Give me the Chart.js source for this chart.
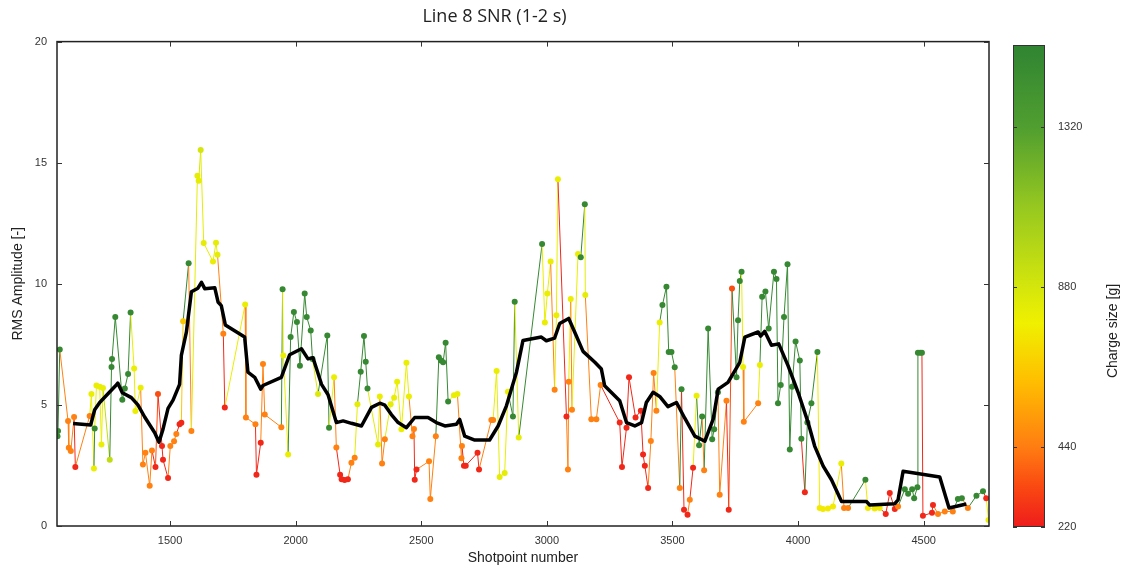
<!DOCTYPE html>
<html><head><meta charset="utf-8">
<script src="https://cdn.jsdelivr.net/npm/chart.js@4.4.0/dist/chart.umd.min.js"></script>
<style>
html,body{margin:0;padding:0;background:#fff;overflow:hidden;}
#main{position:absolute;left:0;top:0;}
#cbar{position:absolute;left:990px;top:0;}
</style></head><body>
<canvas id="main" width="1125" height="573"></canvas>
<canvas id="cbar" width="135" height="573"></canvas>
<script>
// ---- data ----
const shot = [1052,1054,1061,1094,1097,1105,1118,1123,1180,1187,1197,1200,1207,1220,1227,1233,1260,1267,1269,1282,
1310,1320,1333,1343,1357,1362,1383,1392,1402,1419,1428,1442,1452,1468,1472,1492,1501,1516,1525,1538,
1545,1552,1574,1585,1609,1614,1622,1634,1671,1683,1689,1712,1718,1799,1802,1840,1844,1861,1870,1877,
1943,1948,1951,1970,1980,1993,2005,2017,2036,2044,2060,2067,2089,2126,2133,2153,2162,2177,2183,2195,
2208,2222,2235,2246,2259,2272,2279,2286,2328,2335,2344,2355,2378,2392,2404,2421,2441,2451,2465,2471,
2474,2481,2531,2536,2558,2570,2578,2587,2597,2607,2630,2644,2660,2662,2670,2677,2724,2730,2779,2786,
2800,2812,2832,2845,2865,2872,2888,2981,2992,3002,3015,3031,3038,3044,3078,3084,3087,3095,3100,3124,
3135,3151,3153,3177,3197,3214,3290,3299,3317,3327,3353,3374,3383,3390,3403,3414,3425,3436,3449,3460,
3476,3485,3496,3509,3529,3536,3546,3560,3569,3582,3596,3606,3618,3626,3642,3658,3666,3681,3688,3715,
3724,3737,3755,3761,3768,3775,3781,3784,3841,3848,3857,3870,3883,3904,3914,3920,3931,3944,3958,3967,
3976,3990,4007,4013,4027,4037,4053,4077,4086,4099,4119,4139,4172,4183,4199,4268,4278,4305,4325,4349,
4365,4385,4398,4425,4438,4454,4462,4475,4477,4486,4493,4497,4533,4537,4557,4584,4616,4636,4652,4676,
4710,4736,4749,4758];
const rms = [3.71,3.92,7.29,4.34,3.23,3.10,4.50,2.44,4.54,5.45,2.37,4.03,5.80,5.75,3.37,5.70,2.74,6.56,6.90,8.63,
5.21,5.68,6.28,8.81,6.50,4.75,5.71,2.54,3.02,1.66,3.12,2.44,5.45,3.30,2.74,1.98,3.30,3.50,3.80,4.20,
4.26,8.45,10.85,3.92,14.46,14.25,15.52,11.68,10.92,11.70,11.20,7.94,4.89,9.15,4.48,4.20,2.12,3.44,6.69,4.60,
4.08,9.78,7.04,2.95,7.80,8.84,8.42,6.62,9.60,8.63,8.07,6.90,5.45,7.87,4.06,6.14,3.24,2.12,1.93,1.90,
1.93,2.61,2.82,5.03,6.37,7.84,6.78,5.68,3.37,5.35,2.58,3.58,5.03,5.30,5.96,3.99,6.74,5.35,3.71,4.00,
1.91,2.33,2.67,1.11,3.71,6.97,6.83,6.76,7.57,5.14,5.40,5.45,2.80,3.30,2.49,2.49,3.02,2.33,4.38,4.38,
6.40,2.02,2.19,5.54,4.52,9.26,3.65,11.64,8.40,9.60,10.92,5.63,8.70,14.32,4.52,2.33,5.96,9.37,4.80,11.23,
11.10,13.28,9.54,4.41,4.41,5.82,4.27,2.44,4.06,6.14,4.48,4.76,2.95,2.49,1.57,3.51,6.32,4.76,8.40,9.12,
9.88,7.18,7.18,6.55,1.57,5.65,0.67,0.46,1.08,2.40,5.38,3.33,4.52,2.30,8.15,3.58,3.99,5.52,1.29,5.17,
0.67,9.81,6.14,8.50,10.12,10.50,6.56,4.30,5.07,6.65,9.47,9.68,8.15,10.50,10.20,5.07,5.82,8.63,10.81,3.16,
5.75,7.62,6.83,3.60,1.39,4.27,5.07,7.18,0.74,0.70,0.72,0.80,2.58,0.74,0.74,1.91,0.74,0.72,0.74,0.50,
1.36,0.70,0.80,1.52,1.33,1.52,1.15,1.60,7.15,7.15,7.15,0.42,0.55,0.87,0.50,0.60,0.60,1.11,1.15,0.74,
1.25,1.43,1.15,0.25];
const charge = [1500,1500,1500,450,450,450,450,250,450,800,800,1500,800,800,800,800,950,1500,1500,1500,
1500,1500,1500,1500,800,800,800,450,450,450,450,250,340,250,250,250,450,450,450,250,
250,650,1500,450,820,820,880,820,800,820,820,450,250,800,450,450,250,250,450,450,
450,1500,800,800,1500,1500,1500,1500,1500,1500,1500,1500,850,1500,1500,800,450,250,250,250,
250,450,450,820,1500,1500,1500,1500,820,800,450,450,820,800,800,800,800,800,450,450,
250,250,450,450,450,1500,1500,1500,1500,1500,800,800,450,450,250,250,250,250,450,450,
800,820,820,800,1500,1500,820,1500,800,800,800,450,800,800,250,450,450,800,450,800,
1500,1500,820,450,450,450,250,250,250,250,250,250,250,250,250,450,450,450,800,1500,
1500,1500,1500,1500,450,1500,250,250,450,250,800,1500,1500,450,1500,1500,1500,1500,450,450,
250,340,1500,1500,1500,1500,800,450,450,800,1500,1500,1500,1500,1500,1500,1500,1500,1500,1500,
1500,1500,1500,1500,250,1500,1500,1500,760,760,760,760,800,450,450,1500,760,760,760,250,
250,250,450,1500,1500,1500,1500,1500,1500,1500,1500,250,250,250,450,450,450,1500,1500,450,
1500,1500,250,800];

const avgShot = [1114,1184,1200,1220,1286,1292,1310,1346,1372,1399,1439,1456,1472,1492,1512,1538,1545,1565,1585,1611,
1625,1638,1678,1691,1704,1720,1797,1810,1837,1861,1870,1943,1976,2023,2049,2069,2103,2129,2162,2189,
2222,2262,2302,2335,2355,2381,2408,2441,2474,2527,2560,2594,2640,2653,2673,2713,2772,2806,2839,2879,
2905,2978,2998,3031,3051,3087,3111,3144,3191,3217,3230,3290,3317,3350,3377,3396,3423,3449,3482,3516,
3549,3589,3629,3662,3682,3721,3768,3788,3841,3851,3867,3894,3923,3960,4000,4040,4066,4100,4133,4173,
4272,4285,4385,4398,4418,4564,4601,4670];
const avgRms = [4.23,4.17,4.8,5.1,5.82,5.9,5.5,5.3,5.0,4.5,3.85,3.46,4.0,4.86,5.2,5.85,7.04,8.0,9.67,9.82,
10.06,9.8,9.84,9.25,9.1,8.3,7.8,6.35,6.14,5.65,5.8,6.14,7.07,7.32,6.9,6.95,5.85,5.42,4.27,4.34,
4.24,4.13,4.9,5.07,4.99,4.6,4.27,4.06,4.48,4.48,4.27,4.13,4.2,4.4,3.71,3.55,3.55,4.13,4.96,6.35,
7.66,7.8,7.65,7.76,8.36,8.57,8.0,7.21,6.76,6.48,5.79,5.17,4.27,4.13,4.27,5.1,5.52,5.35,4.93,5.1,
4.45,3.71,3.5,4.41,5.65,5.93,6.76,7.8,8.01,7.84,8.04,7.46,7.52,6.62,5.52,4.27,3.3,2.47,1.91,1.01,
1.01,0.87,0.92,1.08,2.26,2.02,0.74,0.91];

const xTicks = [1500,2000,2500,3000,3500,4000,4500];
const yTicks = [0,5,10,15,20];
const cbTicks = [220,440,880,1320];

// colour map of the charge size bar
const cmapValues = [220,330,440,620,780,880,1100,1320,1545];
const cmapColors = ['rgb(238,28,28)','rgb(250,72,18)','rgb(255,125,18)','rgb(255,190,0)','rgb(240,240,0)',
                    'rgb(212,230,12)','rgb(150,200,32)','rgb(80,158,48)','rgb(48,132,50)'];

function parseRgb(s){return s.match(/\d+/g).map(Number);}
function colorFor(v){
  if (v <= cmapValues[0]) return cmapColors[0];
  for (let i=1;i<cmapValues.length;i++){
    if (v <= cmapValues[i]){
      const t=(v-cmapValues[i-1])/(cmapValues[i]-cmapValues[i-1]);
      const a=parseRgb(cmapColors[i-1]), b=parseRgb(cmapColors[i]);
      return 'rgb('+a.map((c,k)=>Math.round(c+(b[k]-c)*t)).join(',')+')';
    }
  }
  return cmapColors[cmapColors.length-1];
}
const pointColors = charge.map(colorFor);

const tickFont = {family:'"Liberation Sans", Arial, sans-serif', size:11};
const titleFont = {family:'"Liberation Sans", Arial, sans-serif', size:14};
const plainLabel = v => String(v);

const framePlugin = {
  id:'frame',
  afterDatasetsDraw(chart){
    const {ctx, chartArea:a, scales:{x,y}} = chart;
    ctx.save();
    ctx.strokeStyle='#222'; ctx.lineWidth=1.5;
    ctx.strokeRect(a.left, a.top, a.right-a.left, a.bottom-a.top);
    ctx.lineWidth=1; ctx.strokeStyle='#333';
    ctx.beginPath();
    xTicks.forEach(v=>{const p=Math.round(x.getPixelForValue(v))+0.5;
      ctx.moveTo(p,a.bottom); ctx.lineTo(p,a.bottom-5);
      ctx.moveTo(p,a.top); ctx.lineTo(p,a.top+5);});
    yTicks.forEach(v=>{const p=Math.round(y.getPixelForValue(v))+0.5;
      ctx.moveTo(a.left,p); ctx.lineTo(a.left+5,p);
      ctx.moveTo(a.right,p); ctx.lineTo(a.right-5,p);});
    ctx.stroke();
    ctx.restore();
  }
};

new Chart(document.getElementById('main'), {
  type:'scatter',
  data:{datasets:[
    {label:'Moving average', data:avgShot.map((s,i)=>({x:s,y:avgRms[i]})), showLine:true,
     borderColor:'#000', borderWidth:3.5, pointRadius:0, order:0, borderJoinStyle:'round'},
    {label:'RMS', data:shot.map((s,i)=>({x:s,y:rms[i]})), showLine:true, order:1,
     borderWidth:1, borderColor:pointColors[0],
     segment:{borderColor:ctx=>pointColors[ctx.p1DataIndex]},
     pointRadius:3, pointBorderWidth:0, pointBackgroundColor:pointColors}
  ]},
  options:{
    responsive:false, animation:false, events:[],
    layout:{padding:{left:0,right:136,top:0,bottom:0}},
    plugins:{legend:{display:false}, tooltip:{enabled:false},
      title:{display:true, text:'Line 8 SNR (1-2 s)', color:'#222',
        font:{family:'"Open Sans", sans-serif', size:18, weight:'normal'}, padding:{top:6,bottom:14}}},
    scales:{
      x:{type:'linear', min:1050, max:4760,
         afterBuildTicks:s=>{s.ticks=xTicks.map(v=>({value:v}));},
         afterFit:s=>{s.height=47;},
         grid:{display:false, drawTicks:false}, border:{display:false},
         ticks:{padding:8, font:tickFont, color:'#333', maxRotation:0, callback:plainLabel},
         title:{display:true, text:'Shotpoint number', font:titleFont, color:'#222', padding:{top:0,bottom:6}}},
      y:{type:'linear', min:0, max:20,
         afterBuildTicks:s=>{s.ticks=yTicks.map(v=>({value:v}));},
         afterFit:s=>{s.width=57;},
         grid:{display:false, drawTicks:false}, border:{display:false},
         ticks:{padding:10, font:tickFont, color:'#333', callback:plainLabel},
         title:{display:true, text:'RMS Amplitude [-]', font:titleFont, color:'#222', padding:{top:10,bottom:0}}}
    }
  },
  plugins:[framePlugin]
});

// ---- colour bar ----
const cbPlugin = {
  id:'cbdecor',
  afterDatasetsDraw(chart){
    const {ctx, chartArea:a, scales:{y}} = chart;
    ctx.save();
    ctx.strokeStyle='#333'; ctx.lineWidth=1;
    ctx.strokeRect(a.left+0.5, a.top+0.5, a.right-a.left-1, a.bottom-a.top-1);
    ctx.beginPath();
    cbTicks.forEach(v=>{const p=Math.round(y.getPixelForValue(v))+0.5;
      ctx.moveTo(a.left,p); ctx.lineTo(a.left+4,p);
      ctx.moveTo(a.right,p); ctx.lineTo(a.right-4,p);});
    ctx.stroke();
    ctx.translate(123, 331);
    ctx.rotate(-Math.PI/2);
    ctx.font = '14px "Liberation Sans", Arial, sans-serif';
    ctx.fillStyle = '#222'; ctx.textAlign='center'; ctx.textBaseline='middle';
    ctx.fillText('Charge size [g]', 0, 0);
    ctx.restore();
  }
};
new Chart(document.getElementById('cbar'), {
  type:'bar',
  data:{labels:[''], datasets:[{data:[[cmapValues[0], cmapValues[cmapValues.length-1]]],
    backgroundColor:ctx=>{
      const ch=ctx.chart, a=ch.chartArea; if(!a) return null;
      const g=ch.ctx.createLinearGradient(0,a.bottom,0,a.top);
      const lo=cmapValues[0], hi=cmapValues[cmapValues.length-1];
      cmapValues.forEach((v,i)=>g.addColorStop((v-lo)/(hi-lo), cmapColors[i]));
      return g;
    },
    borderWidth:0, categoryPercentage:1, barPercentage:1}]},
  options:{responsive:false, animation:false, events:[],
    layout:{padding:{left:23,right:0,top:45,bottom:46}},
    plugins:{legend:{display:false}, tooltip:{enabled:false}},
    scales:{
      x:{display:false},
      y:{position:'right', min:cmapValues[0], max:cmapValues[cmapValues.length-1],
         afterBuildTicks:s=>{s.ticks=cbTicks.map(v=>({value:v}));},
         afterFit:s=>{s.width=80;},
         grid:{display:false, drawTicks:false}, border:{display:false},
         ticks:{padding:13, font:tickFont, color:'#333', callback:plainLabel}}
    }
  },
  plugins:[cbPlugin]
});
</script>
</body></html>
